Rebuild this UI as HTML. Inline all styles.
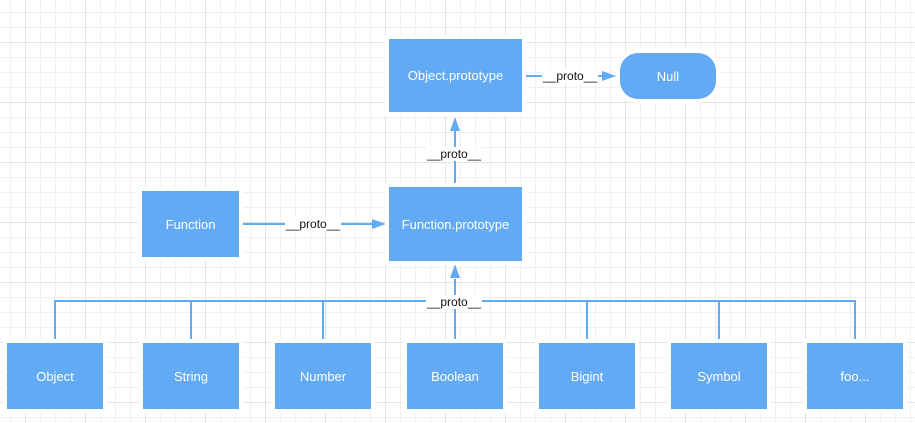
<!DOCTYPE html>
<html><head><style>
html,body{margin:0;padding:0}
body{width:915px;height:423px;position:relative;overflow:hidden;background-color:#fff;
background-image:linear-gradient(#e4e4e4 1px,transparent 1px),linear-gradient(90deg,#e4e4e4 1px,transparent 1px),linear-gradient(#f0f0f0 1px,transparent 1px),linear-gradient(90deg,#f0f0f0 1px,transparent 1px);
background-size:60px 60px,60px 60px,15px 15px,15px 15px;background-position:0 42px,25px 0,0 12px,25px 0;
font-family:"Liberation Sans",Arial,sans-serif}
.b{position:absolute;background:#63aaf5;color:#fff;font-size:13px;display:flex;align-items:center;justify-content:center;box-shadow:0 0 0 4px #fff}
.l{position:absolute;background:#fff;font-size:12px;color:#111;line-height:14px;padding:0 1px}
svg{position:absolute;left:0;top:0}
</style></head><body>
<svg width="915" height="423">
<g stroke="#63aaf5" stroke-width="2" fill="none">
<line x1="526" y1="76" x2="604" y2="76"/>
<line x1="455" y1="185" x2="455" y2="128"/>
<line x1="243" y1="224" x2="373" y2="224"/>
<line x1="455" y1="343" x2="455" y2="279"/>
<polyline points="55,343 55,301 855,301 855,343"/>
<line x1="191" y1="301" x2="191" y2="343"/>
<line x1="323" y1="301" x2="323" y2="343"/>
<line x1="587" y1="301" x2="587" y2="343"/>
<line x1="719" y1="301" x2="719" y2="343"/>
</g>
<g fill="#63aaf5">
<polygon points="616,76 602,71 602,81"/>
<polygon points="455,117 450,131 460,131"/>
<polygon points="386,224 372,219 372,229"/>
<polygon points="455,264 450,278 460,278"/>
</g>
</svg>
<div class="b" style="left:389px;top:39px;width:133px;height:73px">Object.prototype</div>
<div class="b" style="left:620px;top:53px;width:96px;height:46px;border-radius:18px">Null</div>
<div class="b" style="left:142px;top:191px;width:97px;height:66px">Function</div>
<div class="b" style="left:389px;top:187px;width:133px;height:74px">Function.prototype</div>
<div class="b" style="left:7px;top:343px;width:96px;height:66px">Object</div>
<div class="b" style="left:143px;top:343px;width:96px;height:66px">String</div>
<div class="b" style="left:275px;top:343px;width:96px;height:66px">Number</div>
<div class="b" style="left:407px;top:343px;width:96px;height:66px">Boolean</div>
<div class="b" style="left:539px;top:343px;width:96px;height:66px">Bigint</div>
<div class="b" style="left:671px;top:343px;width:96px;height:66px">Symbol</div>
<div class="b" style="left:807px;top:343px;width:96px;height:66px">foo...</div>
<div class="l" style="left:542px;top:69px">__proto__</div>
<div class="l" style="left:426px;top:147px">__proto__</div>
<div class="l" style="left:285px;top:217px">__proto__</div>
<div class="l" style="left:426px;top:295px">__proto__</div>
</body></html>
